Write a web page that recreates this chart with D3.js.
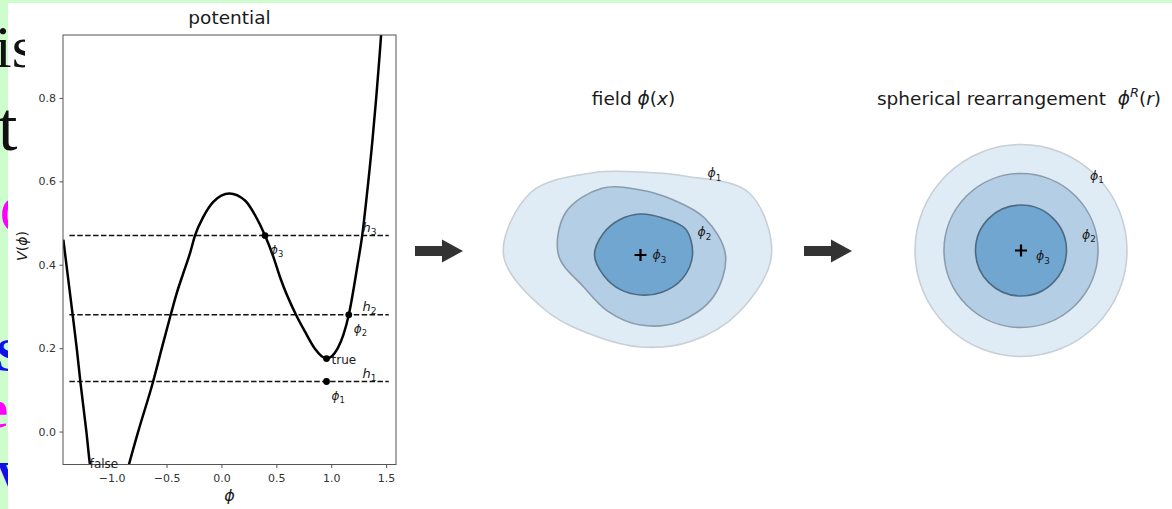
<!DOCTYPE html>
<html>
<head>
<meta charset="utf-8">
<script src="https://cdn.jsdelivr.net/npm/d3@7"></script>
<style>
  html, body { margin: 0; padding: 0; background: #fff; }
  svg { display: block; }
  text { font-family: "DejaVu Sans", sans-serif; white-space: pre; }
</style>
</head>
<body>
<div id="chart"></div>
<script>
// potential V(phi)
const phiPts = [-1.44, -1.355, -1.318, -1.285, -1.23, -1.197, -1.1, -1.02, -0.93, -0.843, -0.758,
                -0.622, -0.543, -0.462, -0.407, -0.347, -0.286, -0.241, -0.165, -0.074, 0.072,
                0.215, 0.306, 0.397, 0.473, 0.534, 0.679, 0.76, 0.848, 0.957, 1.06, 1.16, 1.24,
                1.282, 1.32, 1.376, 1.44, 1.454, 1.49]
const vPts   = [0.46, 0.28, 0.2, 0.12, 0.0, -0.08, -0.17, -0.2, -0.17, -0.08, 0.0,
                0.12, 0.2, 0.28, 0.332, 0.38, 0.428, 0.47, 0.515, 0.551, 0.571,
                0.554, 0.519, 0.47, 0.419, 0.37, 0.28, 0.24, 0.2, 0.175, 0.2, 0.28, 0.4,
                0.47, 0.556, 0.7, 0.9, 0.95, 1.07]

const levels     = [0.12, 0.28, 0.47]
const levelNames = ['1', '2', '3']
const levelSpan  = [-1.385, 1.524]

const markNames = ['3', '2', 'true', '1']
const markPhi   = [0.397, 1.16, 0.957, 0.957]
const markV     = [0.47, 0.28, 0.175, 0.12]
const falseAt   = [-1.2, -0.088]

const xTicks = [-1, -0.5, 0, 0.5, 1, 1.5]
const yTicks = [0, 0.2, 0.4, 0.6, 0.8]

// level sets of the field, radius every 30 deg, counter-clockwise from east
const angles     = [0, 30, 60, 90, 120, 150, 180, 210, 240, 270, 300, 330]
const fieldOuter = [1.31, 1.25, 0.91, 0.83, 0.95, 1.26, 1.37, 1.10, 0.93, 0.92, 1.00, 1.14]
const fieldMid   = [0.85, 0.74, 0.64, 0.65, 0.77, 0.86, 0.82, 0.65, 0.65, 0.70, 0.77, 0.84]
const fieldInner = [0.52, 0.52, 0.43, 0.41, 0.41, 0.43, 0.46, 0.42, 0.40, 0.40, 0.43, 0.48]
// rearranged: balls with the same areas
const sphereRadii = [1.06, 0.77, 0.455]

const fills   = ['#dfebf5', '#b4cfe5', '#71a6d1']
const strokes = ['#c8cfd5', '#8a9cab', '#4d6a81']

const W = 1172, H = 509
const svg = d3.select('#chart').append('svg').attr('width', W).attr('height', H)

// slide behind the figure
svg.append('rect').attr('width', W).attr('height', H).attr('fill', '#cdfccd')
const slide = svg.append('g')
function slideText(g, x, y, size, weight, color, s) {
  g.append('text').attr('x', x).attr('y', y).attr('font-size', size).attr('font-weight', weight)
    .attr('fill', color).style('font-family', '"Liberation Serif", serif').text(s)
}
slideText(slide, 0, 232, 52, 'normal', '#ff00ff', 'C')
slideText(slide, -4, 371, 46, 'bold', '#1010e8', 'S')
slideText(slide, -16, 427, 54, 'bold', '#ff00ff', 'e')
slideText(slide, -4, 492, 44, 'bold', '#1010e8', 'V')
svg.append('rect').attr('x', 8).attr('y', 3).attr('width', W - 8).attr('height', H - 3).attr('fill', '#fff')
svg.append('clipPath').attr('id', 'slideclip').append('rect').attr('x', 0).attr('y', 0).attr('width', 25).attr('height', H)
const slide2 = svg.append('g').attr('clip-path', 'url(#slideclip)')
slideText(slide2, -5, 67, 60, 'normal', '#111', 'is')
slideText(slide2, -2, 150, 70, 'normal', '#111', 't')

// text with italic letters and sub / superscripts
function mtext(sel, x, y, parts, fs, anchor) {
  const t = sel.append('text').attr('x', x).attr('y', y).attr('font-size', fs)
    .attr('text-anchor', anchor || 'start').attr('fill', '#1a1a1a')
  let shift = 0
  parts.forEach(function(p) {
    const target = p.sub ? fs * 0.28 : p.sup ? -fs * 0.42 : 0
    t.append('tspan').attr('dy', target - shift)
      .attr('font-size', (p.sub || p.sup) ? fs * 0.7 : fs)
      .attr('font-style', p.it ? 'italic' : 'normal')
      .text(p.t)
    shift = target
  })
  return t
}

// ---- potential panel
const plot = { left: 63, right: 396, top: 35, bottom: 464.5 }
const x = d3.scaleLinear().domain([-1.443, 1.59]).range([plot.left, plot.right])
const y = d3.scaleLinear().domain([-0.079, 0.951]).range([plot.bottom, plot.top])

const pg = svg.append('g')
svg.append('clipPath').attr('id', 'axclip').append('rect')
  .attr('x', plot.left).attr('y', plot.top)
  .attr('width', plot.right - plot.left).attr('height', plot.bottom - plot.top)

const xAxis = pg.append('g').attr('transform', 'translate(0,' + plot.bottom + ')')
  .call(d3.axisBottom(x).tickValues(xTicks).tickFormat(d3.format('.1f')).tickSize(3.5).tickPadding(6))
const yAxis = pg.append('g').attr('transform', 'translate(' + plot.left + ',0)')
  .call(d3.axisLeft(y).tickValues(yTicks).tickFormat(d3.format('.1f')).tickSize(3.5).tickPadding(3.5))
;[xAxis, yAxis].forEach(function(a) {
  a.select('.domain').remove()
  a.selectAll('line').attr('stroke', '#555')
  a.selectAll('text').attr('font-size', 11).attr('fill', '#333')
    .style('font-family', '"DejaVu Sans", sans-serif')
})

const inner = pg.append('g').attr('clip-path', 'url(#axclip)')
inner.selectAll('line.level').data(levels).enter().append('line')
  .attr('class', 'level')
  .attr('x1', x(levelSpan[0])).attr('x2', x(levelSpan[1]))
  .attr('y1', function(d) { return y(d) }).attr('y2', function(d) { return y(d) })
  .attr('stroke', '#111').attr('stroke-width', 1.5).attr('stroke-dasharray', '5.5,2.4')

const curve = d3.line()
  .x(function(d, i) { return x(phiPts[i]) })
  .y(function(d, i) { return y(vPts[i]) })
  .curve(d3.curveMonotoneX)
inner.append('path').attr('d', curve(phiPts))
  .attr('fill', 'none').attr('stroke', '#000').attr('stroke-width', 2.5)

pg.selectAll('circle.mark').data(markNames).enter().append('circle')
  .attr('class', 'mark')
  .attr('cx', function(d, i) { return x(markPhi[i]) })
  .attr('cy', function(d, i) { return y(markV[i]) })
  .attr('r', 3.4).attr('fill', '#000')

pg.append('rect').attr('x', plot.left).attr('y', plot.top)
  .attr('width', plot.right - plot.left).attr('height', plot.bottom - plot.top)
  .attr('fill', 'none').attr('stroke', '#555').attr('stroke-width', 1)

levels.forEach(function(h, i) {
  mtext(pg, x(1.285), y(h) - 4, [{ t: 'h', it: true }, { t: levelNames[i], sub: true }], 13)
})
markNames.forEach(function(n, i) {
  if (n === 'true') {
    pg.append('text').attr('x', x(markPhi[i]) + 5).attr('y', y(markV[i]) + 5)
      .attr('font-size', 12).attr('fill', '#1a1a1a').text('true')
  } else {
    mtext(pg, x(markPhi[i]) + 5, y(markV[i]) + 18, [{ t: 'ϕ', it: true }, { t: n, sub: true }], 12)
  }
})
pg.append('text').attr('x', x(falseAt[0])).attr('y', y(falseAt[1]))
  .attr('font-size', 12).attr('fill', '#1a1a1a').text('false')

pg.append('text').attr('x', (plot.left + plot.right) / 2).attr('y', 24)
  .attr('text-anchor', 'middle').attr('font-size', 18.5).attr('fill', '#1a1a1a').text('potential')
mtext(pg, (plot.left + plot.right) / 2, 501, [{ t: 'ϕ', it: true }], 16, 'middle')
mtext(pg.append('g').attr('transform', 'translate(27,246) rotate(-90)'), 0, 0,
  [{ t: 'V', it: true }, { t: '(' }, { t: 'ϕ', it: true }, { t: ')' }], 14, 'middle')

// ---- arrows between panels
const arrow = { shaft: 27, half: 5, head: 21, headHalf: 11.5 }
function drawArrow(x0, y0) {
  const p = d3.path()
  p.moveTo(x0, y0 - arrow.half)
  p.lineTo(x0 + arrow.shaft, y0 - arrow.half)
  p.lineTo(x0 + arrow.shaft, y0 - arrow.headHalf)
  p.lineTo(x0 + arrow.shaft + arrow.head, y0)
  p.lineTo(x0 + arrow.shaft, y0 + arrow.headHalf)
  p.lineTo(x0 + arrow.shaft, y0 + arrow.half)
  p.lineTo(x0, y0 + arrow.half)
  p.closePath()
  svg.append('path').attr('d', p.toString()).attr('fill', '#333')
}
drawArrow(415, 251)
drawArrow(804, 251)

// ---- level-set panels
const r = d3.scaleLinear().domain([0, 1]).range([0, 100])
const blob = d3.lineRadial()
  .angle(function(d, i) { return Math.PI / 2 - angles[i] * Math.PI / 180 })
  .radius(function(d) { return r(d) })
  .curve(d3.curveCatmullRomClosed.alpha(0.5))

function plus(g) {
  g.append('path').attr('d', 'M-6,0H6M0,-6V6').attr('stroke', '#000').attr('stroke-width', 2.2)
}

const field = svg.append('g').attr('transform', 'translate(640.5,255)')
field.selectAll('path.lvl').data([fieldOuter, fieldMid, fieldInner]).enter().append('path')
  .attr('class', 'lvl')
  .attr('d', function(d) { return blob(d) })
  .attr('fill', function(d, i) { return fills[i] })
  .attr('stroke', function(d, i) { return strokes[i] })
  .attr('stroke-width', 1.6)
plus(field)
mtext(field, 67, -78, [{ t: 'ϕ', it: true }, { t: '1', sub: true }], 12.5)
mtext(field, 57, -19, [{ t: 'ϕ', it: true }, { t: '2', sub: true }], 12.5)
mtext(field, 12, 4, [{ t: 'ϕ', it: true }, { t: '3', sub: true }], 12.5)
mtext(svg, 633.5, 105, [{ t: 'field ' }, { t: 'ϕ', it: true }, { t: '(' }, { t: 'x', it: true }, { t: ')' }], 18.5, 'middle')

const sphere = svg.append('g').attr('transform', 'translate(1021,250.5)')
sphere.selectAll('circle.lvl').data(sphereRadii).enter().append('circle')
  .attr('class', 'lvl')
  .attr('r', function(d) { return r(d) })
  .attr('fill', function(d, i) { return fills[i] })
  .attr('stroke', function(d, i) { return strokes[i] })
  .attr('stroke-width', 1.6)
plus(sphere)
mtext(sphere, 69, -71, [{ t: 'ϕ', it: true }, { t: '1', sub: true }], 12.5)
mtext(sphere, 61, -12, [{ t: 'ϕ', it: true }, { t: '2', sub: true }], 12.5)
mtext(sphere, 15, 9.5, [{ t: 'ϕ', it: true }, { t: '3', sub: true }], 12.5)
mtext(svg, 1019, 105, [{ t: 'spherical rearrangement  ' }, { t: 'ϕ', it: true }, { t: 'R', it: true, sup: true },
  { t: '(' }, { t: 'r', it: true }, { t: ')' }], 18.5, 'middle')
</script>
</body>
</html>
